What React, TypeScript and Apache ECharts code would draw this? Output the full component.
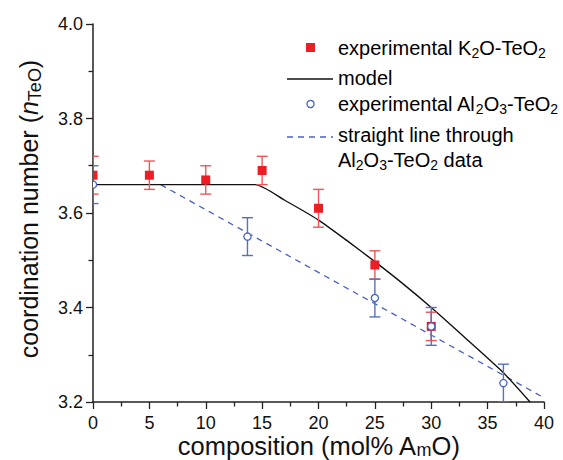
import React, { useEffect, useRef } from "react";
import * as echarts from "echarts";

// ---- data ----
const k2oX = [0, 5, 10, 15, 20, 25, 30];
const k2oY = [3.68, 3.68, 3.67, 3.69, 3.61, 3.49, 3.36];
const k2oErr = [0.04, 0.03, 0.03, 0.03, 0.04, 0.03, 0.03];

const alX = [0, 13.7, 25, 30, 36.4];
const alY = [3.66, 3.55, 3.42, 3.36, 3.24];
const alErr = [0.04, 0.04, 0.04, 0.04, 0.04];

const modelX = [0, 14.4, 17, 20, 22.5, 25, 27.5, 30, 33, 36.4, 38.76];
const modelY = [3.66, 3.66, 3.627, 3.585, 3.542, 3.497, 3.45, 3.4, 3.336, 3.262, 3.2];

const fitX = [6, 40];
const fitY = [3.66, 3.209];

const xTicks = [0, 5, 10, 15, 20, 25, 30, 35, 40];
const yTicks = [3.2, 3.4, 3.6, 3.8, 4.0];

const RED = "#ee1c24";
const RED_ERR = "#f25555";
const BLUE = "#4a62c0";
const BLUE_ERR = "#5a70bb";
const FONT = "'Liberation Sans', Arial, sans-serif";

function errSeries(xs: number[], ys: number[], es: number[], color: string, z: number) {
  return {
    type: "custom",
    clip: true,
    z,
    silent: true,
    data: xs.map((x, i) => [x, ys[i], es[i]]),
    renderItem: (params: any, api: any) => {
      const x = api.value(0);
      const y = api.value(1);
      const e = api.value(2);
      const top = api.coord([x, y + e]);
      const bot = api.coord([x, y - e]);
      const hw = 5.5;
      const st = { stroke: color, lineWidth: 1.4 };
      return {
        type: "group",
        children: [
          { type: "line", shape: { x1: top[0], y1: top[1], x2: bot[0], y2: bot[1] }, style: st },
          { type: "line", shape: { x1: top[0] - hw, y1: top[1], x2: top[0] + hw, y2: top[1] }, style: st },
          { type: "line", shape: { x1: bot[0] - hw, y1: bot[1], x2: bot[0] + hw, y2: bot[1] }, style: st },
        ],
      };
    },
  };
}

function markerSeries(xs: number[], ys: number[], kind: "square" | "circle", z: number) {
  return {
    type: "custom",
    clip: true,
    z,
    silent: true,
    data: xs.map((x, i) => [x, ys[i]]),
    renderItem: (params: any, api: any) => {
      const p = api.coord([api.value(0), api.value(1)]);
      if (kind === "square") {
        const s = 9;
        return { type: "rect", shape: { x: p[0] - s / 2, y: p[1] - s / 2, width: s, height: s }, style: { fill: RED } };
      }
      return {
        type: "circle",
        shape: { cx: p[0], cy: p[1], r: 3.6 },
        style: { fill: "#ffffff", stroke: BLUE, lineWidth: 1.3 },
      };
    },
  };
}

export default function App() {
  const ref = useRef<HTMLDivElement>(null);

  useEffect(() => {
    if (!ref.current) return;
    const chart = echarts.init(ref.current, undefined, { renderer: "svg" });
    const legendX = 338;
    const legendFont = 20;
    const subRich = {
      t: { fontSize: legendFont, fontFamily: FONT, color: "#111", lineHeight: 24 },
      s: { fontSize: 14, fontFamily: FONT, color: "#111", lineHeight: 14, verticalAlign: "bottom" },
    };
    const legendText = (text: string, y: number) => ({
      type: "text",
      x: legendX,
      y,
      style: { text, rich: subRich, verticalAlign: "middle", align: "left" },
    });

    chart.setOption({
      animation: false,
      backgroundColor: "#ffffff",
      grid: { left: 93, top: 24, right: 19, bottom: 58, containLabel: false, outerBoundsMode: "none" },
      xAxis: {
        type: "value",
        min: 0,
        max: 40,
        interval: 5,
        name: "{t|composition (mol% A}{s|m}{t|O)}",
        nameLocation: "middle",
        nameMoveOverlap: false,
        nameGap: 31,
        nameTextStyle: {
          rich: {
            t: { fontSize: 25.5, fontFamily: FONT, color: "#111", lineHeight: 26 },
            s: { fontSize: 18, fontFamily: FONT, color: "#111", lineHeight: 16, verticalAlign: "bottom" },
          },
        },
        axisLine: { show: true, onZero: false, lineStyle: { color: "#222", width: 1.5 } },
        axisTick: { show: true, inside: false, length: 7, lineStyle: { color: "#222", width: 1.3 } },
        minorTick: { show: true, splitNumber: 2, length: 4.5, lineStyle: { color: "#222", width: 1.3 } },
        splitLine: { show: false },
        axisLabel: {
          margin: 12,
          fontSize: 18,
          lineHeight: 18,
          fontFamily: FONT,
          color: "#111",
          formatter: (v: number) => (xTicks.includes(v) ? String(v) : ""),
        },
      },
      yAxis: {
        type: "value",
        min: 3.2,
        max: 4.0,
        interval: 0.2,
        name: "{t|coordination number (}{i|n}{s|TeO}{t|)}",
        nameLocation: "middle",
        nameMoveOverlap: false,
        nameGap: 49,
        nameRotate: 90,
        nameTextStyle: {
          padding: [0, 0, 0, 8],
          rich: {
            t: { fontSize: 25, fontFamily: FONT, color: "#111", lineHeight: 30 },
            i: { fontSize: 25, fontFamily: FONT, color: "#111", lineHeight: 30, fontStyle: "italic" },
            s: { fontSize: 18, fontFamily: FONT, color: "#111", lineHeight: 16, verticalAlign: "bottom" },
          },
        },
        axisLine: { show: true, onZero: false, lineStyle: { color: "#222", width: 1.5 } },
        axisTick: { show: true, inside: false, length: 7, lineStyle: { color: "#222", width: 1.3 } },
        minorTick: { show: true, splitNumber: 2, length: 4.5, lineStyle: { color: "#222", width: 1.3 } },
        splitLine: { show: false },
        axisLabel: {
          margin: 10,
          fontSize: 18,
          fontFamily: FONT,
          color: "#111",
          formatter: (v: number) => {
            const ok = yTicks.some((t) => Math.abs(t - v) < 1e-6);
            return ok ? v.toFixed(1) : "";
          },
        },
      },
      series: [
        {
          type: "line",
          name: "straight line through Al2O3-TeO2 data",
          data: fitX.map((x, i) => [x, fitY[i]]),
          showSymbol: false,
          symbol: "none",
          clip: true,
          z: 2,
          lineStyle: { color: BLUE, width: 1.3, type: [6, 5] },
        },
        {
          type: "line",
          name: "model",
          data: modelX.map((x, i) => [x, modelY[i]]),
          showSymbol: false,
          symbol: "none",
          smooth: 0.2,
          clip: true,
          z: 3,
          lineStyle: { color: "#111", width: 1.4 },
        },
        errSeries(k2oX, k2oY, k2oErr, RED_ERR, 4),
        errSeries(alX, alY, alErr, BLUE_ERR, 5),
        markerSeries(k2oX, k2oY, "square", 6),
        markerSeries(alX, alY, "circle", 7),
      ],
      graphic: [
        { type: "rect", shape: { x: 306, y: 43, width: 9, height: 9 }, style: { fill: RED } },
        legendText("{t|experimental K}{s|2}{t|O-TeO}{s|2}", 48),
        { type: "line", shape: { x1: 287, y1: 79, x2: 333, y2: 79 }, style: { stroke: "#111", lineWidth: 1.4 } },
        legendText("{t|model}", 78),
        { type: "circle", shape: { cx: 310.5, cy: 104, r: 3.6 }, style: { fill: "#fff", stroke: BLUE, lineWidth: 1.3 } },
        legendText("{t|experimental Al}{s|2}{t|O}{s|3}{t|-TeO}{s|2}", 104),
        {
          type: "line",
          shape: { x1: 287, y1: 137, x2: 333, y2: 137 },
          style: { stroke: BLUE, lineWidth: 1.3, lineDash: [6, 5] },
        },
        legendText("{t|straight line through}", 135),
        legendText("{t|Al}{s|2}{t|O}{s|3}{t|-TeO}{s|2}{t| data}", 160),
      ],
    });
    return () => chart.dispose();
  }, []);

  return (
    <div
      ref={ref}
      style={{ position: "fixed", left: 0, top: 0, width: 563, height: 460, background: "#fff" }}
    />
  );
}
